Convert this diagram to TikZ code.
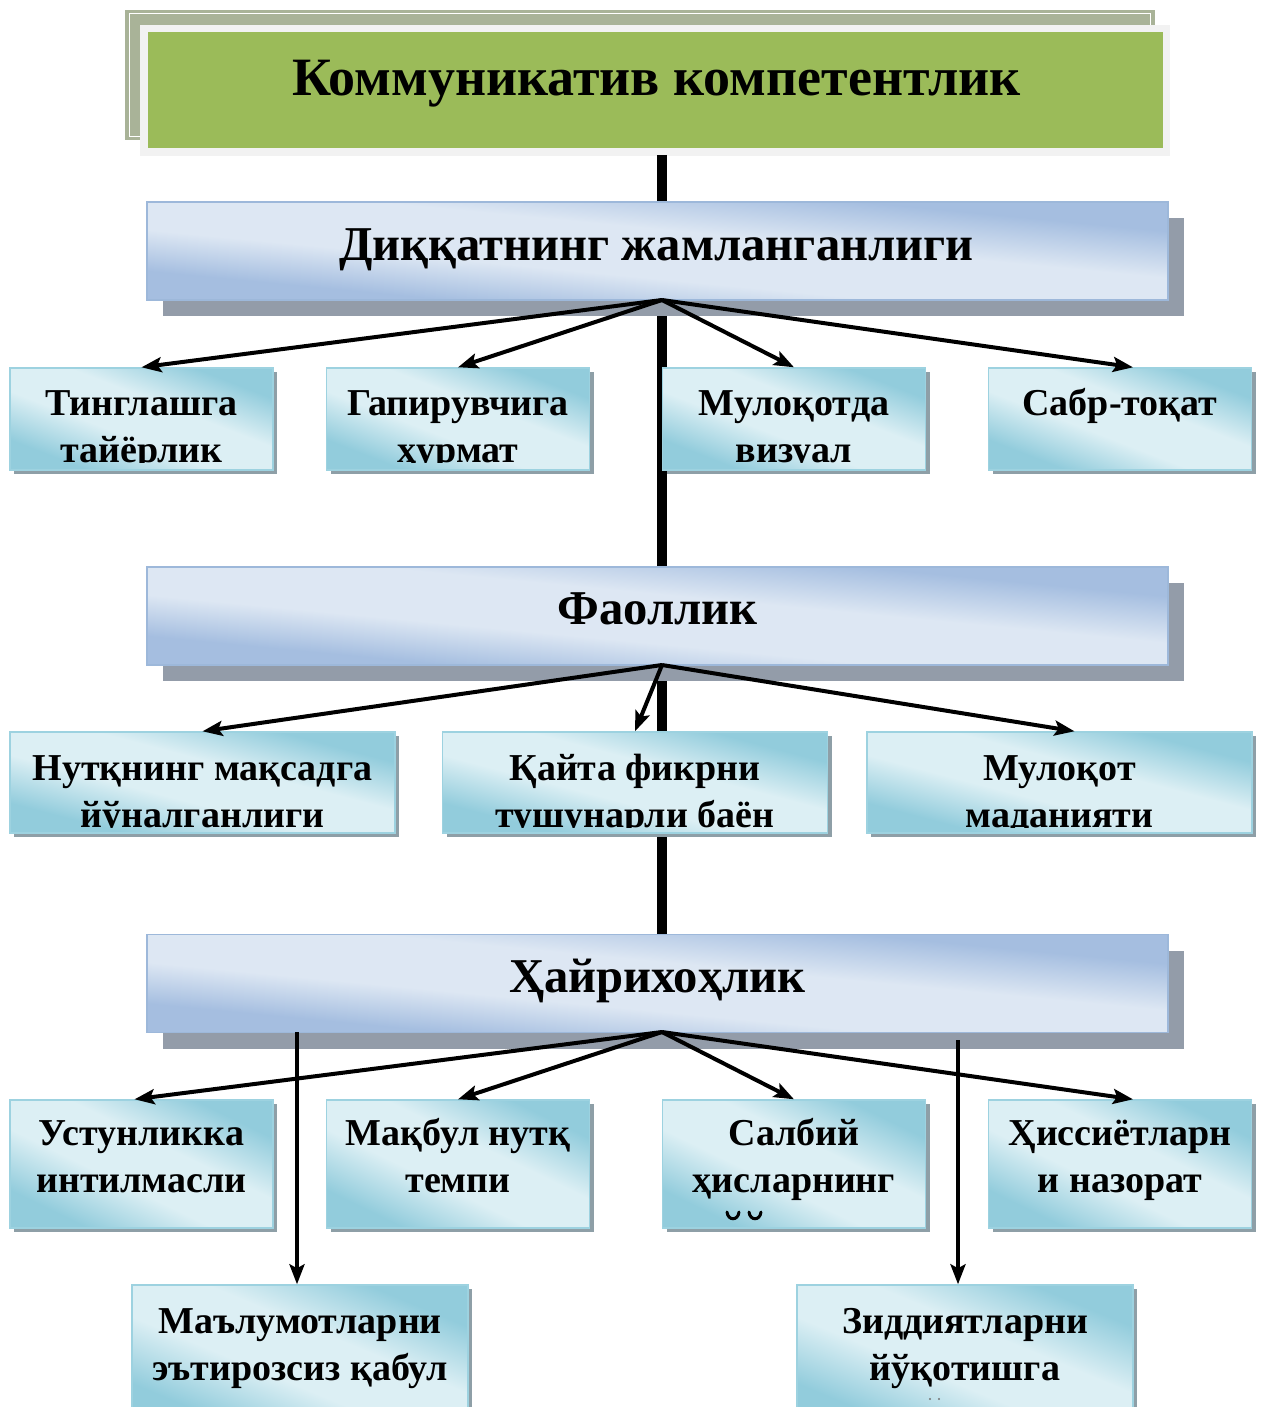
\documentclass[tikz,border=0pt]{standalone}
\usepackage{fontspec}
\setmainfont{Liberation Serif}
\usetikzlibrary{arrows.meta,calc}
\definecolor{greenfill}{HTML}{9BBB59}
\definecolor{backframe}{HTML}{A9B398}
\definecolor{frontframe}{HTML}{F2F2F2}
\definecolor{bigL}{HTML}{DDE7F3}
\definecolor{bigD}{HTML}{A5BEE0}
\definecolor{bigBorder}{HTML}{9DB8DA}
\definecolor{bigShadow}{HTML}{939CA9}
\definecolor{cyL}{HTML}{DCEFF4}
\definecolor{cyD}{HTML}{92CCDC}
\definecolor{cyBorder}{HTML}{9DD2E0}
\definecolor{cyShadow}{HTML}{8E9FA7}
\pgfdeclarehorizontalshading{bigband}{100bp}{color(0bp)=(bigD); color(25bp)=(bigD); color(40bp)=(bigL); color(58bp)=(bigL); color(75bp)=(bigD); color(100bp)=(bigD)}
\pgfdeclarehorizontalshading{cyband}{100bp}{color(0bp)=(cyD); color(25bp)=(cyD); color(42bp)=(cyL); color(58bp)=(cyL); color(75bp)=(cyD); color(100bp)=(cyD)}
% #1 kind (big/cy), #2 node name, #3 cx, #4 cy, #5 width px, #6 height px, #7 shadow offset px
\newcommand\gradbox[7]{%
  \node[fill=#1Shadow, minimum width=#5*0.5pt, minimum height=#6*0.5pt, inner sep=0pt] (#2shadow) at ({#3+#7},{#4+#7}) {};
  \shade[transform canvas={shift={(#3,#4)}, xscale=#5/4, yscale=#6/4}, shading=#1band, shading angle=45] (-1pt,-1pt) rectangle (1pt,1pt);
  \node[draw=#1Border, line width=0.7pt, minimum width=#5*0.5pt, minimum height=#6*0.5pt, inner sep=0pt] (#2) at (#3,#4) {};
}
\begin{document}
\begin{tikzpicture}[x=0.5pt,y=-0.5pt,
  rowtext/.style={font=\fontsize{19}{23.5}\selectfont\bfseries, anchor=base, inner sep=0pt},
  bigtext/.style={font=\fontsize{24.3}{29}\selectfont\bfseries, anchor=base, inner sep=0pt},
  arr/.style={line width=2pt, -{Stealth[length=10pt,width=7.5pt,inset=2pt]}},
  spine/.style={line width=5pt, black}
]
\useasboundingbox (0,0) rectangle (1264,1407);
\fill[white] (0,0) rectangle (1264,1407);

% title
\node[fill=backframe, minimum width=515pt, minimum height=65pt, inner sep=0pt] (tback) at (640,75) {};
\draw[white, line width=0.8pt] ($(tback.north west)+(5,4)$) rectangle ($(tback.south east)+(-5,-4)$);
\node[fill=frontframe, minimum width=515pt, minimum height=65.5pt, inner sep=0pt] (tframe) at (655,90.5) {};
\node[fill=greenfill, minimum width=507.5pt, minimum height=58pt, inner sep=0pt] (title) at (655.5,90) {};
\node[font=\fontsize{27}{32}\selectfont\bfseries, anchor=base, inner sep=0pt] (titletext) at (656.5,96) {Коммуникатив компетентлик};

% spine
\coordinate (spinetop) at (662,155);
\coordinate (spinebot) at (662,940);
\draw[spine] (spinetop) -- (spinebot);

% level boxes
\gradbox{big}{d1}{657.5}{251}{1021}{98}{16}
\node[bigtext] (d1t) at (656.5,261) {Диққатнинг жамланганлиги};
\gradbox{big}{f1}{657.5}{616}{1021}{98}{16}
\node[bigtext] (f1t) at (657.5,624) {Фаоллик};
\gradbox{big}{h1}{657.5}{983.5}{1021}{98}{16}
\node[bigtext] (h1t) at (657.5,992) {Ҳайрихоҳлик};

% row 1
\foreach \n/\cx in {b11/141.5,b12/458,b13/794,b14/1120}{
  \gradbox{cy}{\n}{\cx}{419}{263}{102}{4}
}
\begin{scope}
\clip (b11.north west) rectangle ($(b14.south east)+(0,-8)$);
\node[rowtext] (t11) at (141.5,415) {\begin{tabular}[t]{@{}c@{}}Тинглашга\\тайёрлик\end{tabular}};
\node[rowtext] (t12) at (458,415) {\begin{tabular}[t]{@{}c@{}}Гапирувчига\\ҳурмат\end{tabular}};
\node[rowtext] (t13) at (794,415) {\begin{tabular}[t]{@{}c@{}}Мулоқотда\\визуал\end{tabular}};
\node[rowtext] (t14) at (1120,415) {Сабр-тоқат};
\end{scope}

% row 2
\foreach \n/\cx in {b21/202.5,b22/635,b23/1059.5}{
  \gradbox{cy}{\n}{\cx}{782.5}{385}{101}{4}
}
\begin{scope}
\clip (b21.north west) rectangle ($(b23.south east)+(0,-6)$);
\node[rowtext] (t21) at (202.5,780) {\begin{tabular}[t]{@{}c@{}}Нутқнинг мақсадга\\йўналганлиги\end{tabular}};
\node[rowtext] (t22) at (635,780) {\begin{tabular}[t]{@{}c@{}}Қайта фикрни\\тушунарли баён\end{tabular}};
\node[rowtext] (t23) at (1059.5,780) {\begin{tabular}[t]{@{}c@{}}Мулоқот\\маданияти\end{tabular}};
\end{scope}

% row 3
\foreach \n/\cx in {b31/141.5,b32/458,b33/794,b34/1120}{
  \gradbox{cy}{\n}{\cx}{1164}{263}{128}{4}
}
\node[rowtext] (t31) at (141.5,1145) {\begin{tabular}[t]{@{}c@{}}Устунликка\\интилмасли\end{tabular}};
\node[rowtext] (t32) at (458,1145) {\begin{tabular}[t]{@{}c@{}}Мақбул нутқ\\темпи\end{tabular}};
\node[rowtext] (t33) at (794,1145) {\begin{tabular}[t]{@{}c@{}}Салбий\\ҳисларнинг\end{tabular}};
\node[rowtext] (t34) at (1120,1145) {\begin{tabular}[t]{@{}c@{}}Ҳиссиётларн\\и назорат\end{tabular}};
\draw[line width=1.5pt, line cap=round] (727,1212) .. controls (728,1221) and (738,1221) .. (739,1212);
\draw[line width=1.5pt, line cap=round] (749,1212) .. controls (750,1221) and (760,1221) .. (761,1212);

% row 4
\gradbox{cy}{b41}{300}{1355}{336}{140}{4}
\gradbox{cy}{b42}{965}{1355}{336}{140}{4}
\node[rowtext] (t41) at (300,1333) {\begin{tabular}[t]{@{}c@{}}Маълумотларни\\эътирозсиз қабул\end{tabular}};
\node[rowtext] (t42) at (965,1333) {\begin{tabular}[t]{@{}c@{}}Зиддиятларни\\йўқотишга\end{tabular}};
\fill[black!55] (930,1399) circle (1.2) (939,1399) circle (1.2);

% arrows level 1
\coordinate (d1o) at (662,300);
\draw[arr] (d1o) -- (b11.north);
\draw[arr] (d1o) -- (b12.north);
\draw[arr] (d1o) -- (b13.north);
\draw[arr] (d1o) -- ($(b14.north)+(13,0)$);
% arrows level 2
\coordinate (f1o) at (662,665);
\draw[arr] (f1o) -- (b21.north);
\draw[arr] (f1o) -- (b22.north);
\draw[arr] (f1o) -- ($(b23.north)+(15,0)$);
% arrows level 3
\coordinate (h1o) at (662,1032);
\draw[arr] (h1o) -- ($(b31.north)+(-7,0)$);
\draw[arr] (h1o) -- (b32.north);
\draw[arr] (h1o) -- (b33.north);
\draw[arr] (h1o) -- ($(b34.north)+(13,0)$);
\coordinate (hL) at (297,1032);
\coordinate (hR) at (958,1040);
\draw[arr] (hL) -- (hL |- b41.north);
\draw[arr] (hR) -- (hR |- b42.north);
\end{tikzpicture}
\end{document}
